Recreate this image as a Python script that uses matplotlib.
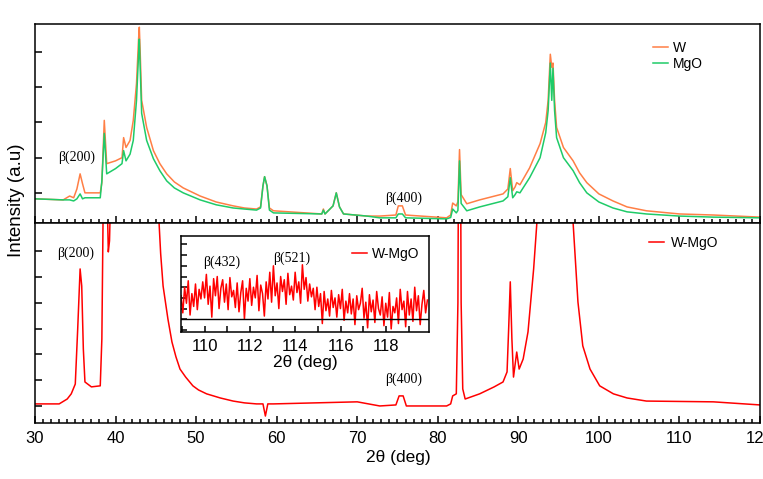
import matplotlib
matplotlib.use("Agg")
import matplotlib.pyplot as plt
from matplotlib.ticker import MultipleLocator
import numpy as np

# figure parameters
figDim = (7.63, 4.79)
figDPI = 100
tickFont = 12
labelFont = 12.5
legendFont = 10
annFont = 10
lineW = 1.1
spineW = 1.1

orange = "#FF7F45"
green = "#1FCB68"
red = "#FF0000"

plt.rcParams["font.family"] = ["Liberation Sans", "DejaVu Sans"]

# --- top panel: W and MgO patterns (intensity in tick units) ---
W_TT = [30.0, 33.5, 34.3, 34.8, 35.2, 35.6, 35.9, 36.2, 38.1, 38.3,
        38.6, 38.9, 40.0, 40.8, 41.0, 41.3, 41.8, 42.2, 42.6, 42.85,
        42.95, 43.05, 43.24, 43.86, 44.7, 45.5, 46.35, 47.3, 48.4, 50.5,
        52.5, 54.6, 56.0, 57.5, 58.0, 58.3, 58.5, 58.8, 59.1, 59.6,
        65.6, 65.8, 66.0, 67.0, 67.4, 67.8, 68.3, 71.2, 72.8, 74.8,
        75.1, 75.6, 76.0, 81.1, 81.6, 81.85, 82.3, 82.5, 82.7, 82.9,
        83.6, 85.2, 88.1, 88.7, 89.0, 89.3, 89.6, 89.8, 90.2, 91.4,
        92.7, 93.4, 93.7, 93.97, 94.15, 94.3, 94.5, 94.75, 95.6, 96.8,
        97.6, 98.5, 100.0, 101.75, 103.5, 105.9, 110.0, 114.2, 120.0]
W_I = [-0.17, -0.20, -0.09, -0.14, 0.11, 0.54, 0.26, 0.0, 0.0, 0.29,
       2.06, 0.83, 0.91, 1.0, 1.57, 1.29, 1.49, 2.06, 3.11, 4.34,
       4.71, 4.06, 2.63, 1.86, 1.2, 0.83, 0.54, 0.31, 0.14, -0.09,
       -0.26, -0.37, -0.43, -0.46, -0.40, 0.2, 0.46, 0.2, -0.43, -0.51,
       -0.6, -0.46, -0.6, -0.37, 0.0, -0.4, -0.6, -0.66, -0.66, -0.63,
       -0.37, -0.37, -0.63, -0.71, -0.63, -0.29, -0.37, -0.25, 1.23, -0.05,
       -0.31, -0.2, -0.03, 0.11, 0.69, 0.06, 0.17, 0.29, 0.23, 0.71,
       1.4, 2.0, 2.63, 3.94, 3.57, 3.69, 2.63, 1.86, 1.29, 0.91,
       0.57, 0.29, -0.03, -0.23, -0.4, -0.51, -0.6, -0.63, -0.69]
MGO_TT = W_TT
MGO_I = [-0.17, -0.20, -0.20, -0.23, -0.17, -0.03, -0.17, -0.14, -0.14, 0.34,
         1.69, 0.54, 0.69, 0.83, 1.2, 0.91, 1.1, 1.49, 2.63, 3.91,
         4.37, 3.63, 2.26, 1.49, 0.97, 0.63, 0.34, 0.14, 0.0, -0.2,
         -0.34, -0.43, -0.46, -0.49, -0.43, 0.2, 0.46, 0.2, -0.49, -0.57,
         -0.6, -0.49, -0.6, -0.37, 0.0, -0.4, -0.6, -0.66, -0.71, -0.71,
         -0.6, -0.6, -0.71, -0.74, -0.7, -0.46, -0.57, -0.5, 0.91, -0.3,
         -0.51, -0.4, -0.23, -0.11, 0.43, -0.14, -0.05, 0.03, 0.0, 0.43,
         1.0, 1.71, 2.34, 3.69, 2.63, 3.54, 2.34, 1.57, 1.0, 0.63,
         0.29, 0.0, -0.26, -0.43, -0.54, -0.6, -0.66, -0.69, -0.71]

# --- bottom panel: W-MgO pattern ---
RED_TT = [30.0, 33.0, 34.0, 34.5, 35.0, 35.3, 35.6, 35.8, 36.0, 36.2,
          37.0, 38.1, 38.3, 38.6, 38.9, 39.1, 39.25, 39.45, 39.7, 41.0,
          43.0, 45.0, 45.4, 45.6, 45.9, 46.5, 47.0, 47.5, 48.0, 48.7,
          49.6, 50.3, 51.3, 53.0, 54.6, 56.0, 57.5, 58.3, 58.6, 58.9,
          59.6, 70.0, 72.8, 74.8, 75.2, 75.7, 76.1, 81.1, 81.6, 81.85,
          82.3, 82.5, 82.7, 82.9, 83.1, 83.4, 85.2, 87.0, 88.1, 88.6,
          88.8, 89.0, 89.2, 89.4, 89.8, 90.1, 90.6, 91.2, 91.9, 92.3,
          93.0, 94.0, 95.0, 96.8, 97.4, 98.0, 98.9, 100.1, 101.8, 103.5,
          105.9, 114.2, 120.0]
RED_I = [0.08, 0.08, 0.27, 0.47, 0.85, 2.98, 5.31, 4.65, 2.21, 0.93,
         0.74, 0.78, 2.6, 12.0, 9.0, 5.97, 6.4, 9.0, 12.0, 16.0,
         40.0, 10.5, 7.1, 5.9, 4.65, 3.37, 2.48, 1.9, 1.43, 1.12,
         0.78, 0.62, 0.47, 0.31, 0.19, 0.12, 0.08, 0.08, -0.39, 0.08,
         0.08, 0.16, 0.0, 0.04, 0.39, 0.39, 0.0, 0.0, 0.08, 0.39,
         0.47, 4.0, 20.0, 4.0, 0.66, 0.27, 0.47, 0.74, 0.93, 1.32,
         3.0, 4.81, 2.6, 1.12, 2.09, 1.43, 1.82, 2.87, 5.31, 7.09,
         12.0, 40.0, 15.0, 7.09, 4.03, 2.33, 1.43, 0.78, 0.47, 0.31,
         0.19, 0.16, 0.04]

# --- inset: W-MgO zoom 109-120 deg (scan step 0.08 deg) ---
INSET_START = 108.95
INSET_STEP = 0.08
INSET_I = [2.2, 0.6, 3.0, 1.5, 3.6, 0.4, 2.4, 1.2, 3.3, 0.9, 2.8, 1.9, 3.5,
           2.0, 4.2, 1.4, 3.1, 0.2, 3.8, 2.2, 4.0, 1.0, 2.9, 3.7, 1.6,
           3.3, 0.9, 3.9, 2.1, 2.7, 1.1, 3.4, 0.7, 2.5, 3.6, 0.0, 2.9, 1.7,
           3.8, 1.3, 3.0, 2.0, 4.1, 0.8, 3.2, 2.4, 0.3, 3.5, 1.9, 4.4,
           1.6, 5.0, 2.2, 3.4, 1.0, 4.0, 2.6, 3.7, 1.4, 4.3, 2.3, 3.1, 1.8,
           4.4, 2.5, 3.5, 1.5, 5.1, 2.8, 3.9, 1.7, 3.3, 2.1, 2.9, 0.9,
           3.0, 1.2, 2.4, -0.4, 2.6, 0.8, 1.9, 0.3, 2.7, 1.1, 2.0, 0.2, 2.3,
           1.0, 2.8, -0.1, 1.7, 0.6, 2.4, 0.5, 1.9, -0.5, 2.2, 0.9, 1.5,
           2.9, 0.1, 1.6, -0.8, 2.3, 0.7, 1.8, -0.3, 2.6, 1.0, 0.4, 2.1, -0.6,
           1.5, 0.2, 2.5, -0.9, 1.2, 0.6, 2.0, -0.4, 2.8, 0.9, 1.7, -0.7,
           2.6, 0.4, 1.9, -0.2, 3.0, 0.8, 2.2, -0.5, 1.4, 2.7, 0.6, 1.8]
INSET_TT = INSET_START + INSET_STEP * np.arange(len(INSET_I))

XTICKS = [30, 40, 50, 60, 70, 80, 90, 100, 110, 120]
INSET_XTICKS = [110, 112, 114, 116, 118]


def styleAxis(ax, lw=spineW):
    for s in ax.spines.values():
        s.set_linewidth(lw)
    ax.tick_params(which="both", direction="in", width=lw, top=False, right=False)


def serif(ax, x, y, s):
    ax.text(x, y, s, fontsize=annFont, ha="center", va="center",
            family=["Liberation Serif", "DejaVu Serif"])


fig = plt.figure(figsize=figDim, dpi=figDPI)
W_, H_ = 763.0, 479.0
axTop = fig.add_axes([35 / W_, 1 - 223 / H_, 725 / W_, 199 / H_])
axBot = fig.add_axes([35 / W_, 1 - 423 / H_, 725 / W_, 200 / H_])
axIn = fig.add_axes([181 / W_, 1 - 332 / H_, 248 / W_, 96 / H_])

# top panel
axTop.plot(W_TT, W_I, color=orange, lw=lineW, label="W")
axTop.plot(MGO_TT, MGO_I, color=green, lw=lineW, label="MgO")
axTop.set_xlim(30, 120)
axTop.set_ylim(-0.857, 4.8)
axTop.set_yticks([0, 1, 2, 3, 4])
axTop.set_yticklabels([])
axTop.set_xticks(XTICKS)
axTop.set_xticklabels([])
axTop.xaxis.set_minor_locator(MultipleLocator(1))
styleAxis(axTop)
axTop.tick_params(axis="x", which="major", length=5)
axTop.tick_params(axis="x", which="minor", length=3)
axTop.tick_params(axis="y", length=5)
serif(axTop, 35.2, 1.0, "β(200)")
serif(axTop, 75.8, -0.14, "β(400)")
axTop.legend(loc="center left", bbox_to_anchor=(653 / W_, 1 - 56 / H_),
             bbox_transform=fig.transFigure, frameon=False, fontsize=legendFont,
             handlelength=1.1, handletextpad=0.3, labelspacing=0.15,
             borderpad=0, borderaxespad=0)

# bottom panel
axBot.plot(RED_TT, RED_I, color=red, lw=lineW, label="W-MgO")
axBot.set_xlim(30, 120)
axBot.set_ylim(-0.66, 7.09)
axBot.set_yticks([0, 1, 2, 3, 4, 5, 6])
axBot.set_yticklabels([])
axBot.set_xticks(XTICKS)
axBot.xaxis.set_minor_locator(MultipleLocator(1))
styleAxis(axBot)
axBot.tick_params(axis="x", which="major", length=5, labelsize=tickFont, pad=6)
axBot.tick_params(axis="x", which="minor", length=3)
axBot.tick_params(axis="y", length=5)
axBot.set_xlabel("2θ (deg)", fontsize=labelFont)
axBot.xaxis.set_label_coords(398 / 725 - 35 / 725, -27 / 200)
serif(axBot, 35.1, 5.93, "β(200)")
serif(axBot, 75.8, 1.05, "β(400)")
axBot.legend(loc="center left", bbox_to_anchor=(649 / W_, 1 - 243 / H_),
             bbox_transform=fig.transFigure, frameon=False, fontsize=legendFont,
             handlelength=1.1, handletextpad=0.45, borderpad=0, borderaxespad=0)

# inset
axIn.plot(INSET_TT, INSET_I, color=red, lw=lineW, label="W-MgO")
axIn.axhline(0, color="black", lw=1.0)
axIn.set_xlim(108.95, 119.9)
axIn.set_ylim(-1.19, 7.79)
axIn.set_yticks(list(range(-1, 8)))
axIn.set_yticklabels([])
axIn.set_xticks(INSET_XTICKS)
axIn.xaxis.set_minor_locator(MultipleLocator(1))
styleAxis(axIn)
axIn.tick_params(which="both", length=4)
axIn.tick_params(axis="x", labelsize=tickFont, pad=5)
axIn.set_xlabel("2θ (deg)", fontsize=labelFont, labelpad=1)
serif(axIn, 110.74, 5.3, "β(432)")
serif(axIn, 113.84, 5.7, "β(521)")
axIn.legend(loc="center left", bbox_to_anchor=(352 / W_, 1 - 254 / H_),
            bbox_transform=fig.transFigure, frameon=False, fontsize=legendFont,
            handlelength=1.1, handletextpad=0.35, borderpad=0, borderaxespad=0)

fig.text(17 / W_, 1 - 200 / H_, "Intensity (a.u)", rotation=90, fontsize=13.5,
         ha="center", va="center")

fig.savefig("out.png", dpi=figDPI)
